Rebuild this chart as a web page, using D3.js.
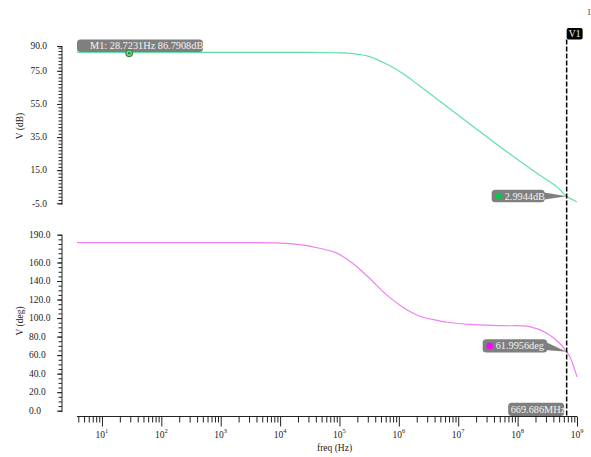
<!DOCTYPE html>
<html>
<head>
<meta charset="utf-8">
<script src="https://cdn.jsdelivr.net/npm/d3@7/dist/d3.min.js"></script>
<style>
  body { margin: 0; background: #fff; }
  svg text { font-family: "Liberation Serif", "DejaVu Serif", serif; }
</style>
</head>
<body>
<svg id="chart" width="591" height="457"></svg>
<script>
// magnitude trace (Hz, dB)
const magFreq = [3.8, 10, 100, 1e3, 1e4, 3.16e4, 1e5, 1.66e5, 3.2e5, 6.2e5, 1.15e6, 2.2e6, 4.3e6, 7.2e6, 1.55e7, 5.6e7, 2.0e8, 4.6e8, 6.7e8, 1e9];
const magDb   = [86.2, 86.2, 86.2, 86.2, 86.2, 86.1, 85.9, 85.4, 83.6, 79.1, 73.5, 66.1, 58.2, 52.1, 43.1, 28.0, 13.7, 4.9, -0.8, -4.2];

// phase trace (Hz, deg)
const phaseFreq = [3.8, 1e3, 1e4, 2e4, 4.6e4, 8.7e4, 1.66e5, 3.2e5, 6.2e5, 1.17e6, 2.2e6, 4.3e6, 7.1e6, 1.55e7, 5.7e7, 1.6e8, 3.1e8, 5.1e8, 6.7e8, 7.6e8, 1e9];
const phaseDeg  = [181.4, 181.4, 181.0, 179.5, 175.4, 170.6, 159.2, 143, 125, 111.7, 102.3, 97.6, 95.2, 93.2, 91.8, 90.7, 83.6, 72.8, 63.7, 58.3, 36.5];

const magTicks = [-5, 15, 35, 55, 75, 90];
const phaseTicks = [0, 20, 40, 60, 80, 100, 120, 140, 160, 190];
const decades = [1, 2, 3, 4, 5, 6, 7, 8, 9];

// markers
const m1 = {freq: 28.7231, db: 86.7908, label: "M1: 28.7231Hz 86.7908dB"};
const cursor = {freq: 669.686e6, name: "V1", freqLabel: "669.686MHz", dbLabel: "2.9944dB", degLabel: "61.9956deg"};

const ink = "#222";
const svg = d3.select("#chart");

const x = d3.scaleLog().domain([3.8, 1e9]).range([77, 577]);
const yMag = d3.scaleLinear().domain([-5, 90]).range([203.3, 46]);
const yPh = d3.scaleLinear().domain([0, 190]).range([410.7, 234.7]);

// piecewise lookups along the traces (for placing markers on the curves)
const magAt = d3.scaleLog().domain(magFreq).range(magDb);
const phAt = d3.scaleLog().domain(phaseFreq).range(phaseDeg);

// ---- y axes
function yAxis(scale, ticks, minorStep, lo, hi, labelX, anchor) {
    const g = svg.append("g").attr("transform", "translate(62,0)");
    const minor = d3.range(lo, hi + 0.001, minorStep);
    g.append("g").call(d3.axisLeft(scale).tickValues(minor).tickSize(3.5).tickFormat(""))
        .call(s => s.select(".domain").remove());
    g.append("g").call(d3.axisLeft(scale).tickValues(ticks).tickSize(5).tickFormat(""))
        .call(s => s.select(".domain").remove());
    g.selectAll(".tick line").attr("stroke", ink);
    g.append("line")
        .attr("y1", scale(d3.max(ticks))).attr("y2", scale(d3.min(ticks)) + 1.5)
        .attr("stroke", ink);
    svg.append("g").selectAll("text").data(ticks).join("text")
        .attr("x", labelX).attr("y", d => scale(d) + 3.3)
        .attr("text-anchor", anchor)
        .attr("font-size", 9.5).attr("fill", ink)
        .text(d => d.toFixed(1));
}
yAxis(yMag, magTicks, 2, -5, 90, 47, "end");
yAxis(yPh, phaseTicks, 5, 0, 190, 29, "start");

svg.append("text").attr("transform", "translate(23,126) rotate(-90)")
    .attr("text-anchor", "middle").attr("font-size", 9.5).attr("fill", ink).text("V (dB)");
svg.append("text").attr("transform", "translate(23,321) rotate(-90)")
    .attr("text-anchor", "middle").attr("font-size", 9.5).attr("fill", ink).text("V (deg)");

// ---- x axis
const minorF = [];
decades.forEach(e => [2, 3, 4, 5, 6, 7, 8, 9].forEach(m => minorF.push(m * Math.pow(10, e - 1))));
const minorIn = minorF.filter(f => f >= 3.8 && f <= 1e9);
const xg = svg.append("g").attr("transform", "translate(0,416.5)");
xg.append("g").call(d3.axisBottom(x).tickValues(minorIn).tickSize(6).tickFormat(""))
    .call(s => s.select(".domain").remove());
xg.append("g").call(d3.axisBottom(x).tickValues(decades.map(e => Math.pow(10, e))).tickSize(10).tickFormat(""))
    .call(s => s.select(".domain").remove());
xg.selectAll(".tick line").attr("stroke", ink);
xg.append("line").attr("x1", 77).attr("x2", 577).attr("stroke", ink);

const xl = svg.append("g").selectAll("text").data(decades).join("text")
    .attr("x", d => x(Math.pow(10, d))).attr("y", 438)
    .attr("text-anchor", "middle").attr("font-size", 9.5).attr("fill", ink);
xl.append("tspan").text("10");
xl.append("tspan").attr("dy", -5).attr("font-size", 6.5).text(d => d);

svg.append("text").attr("x", 317).attr("y", 451).attr("font-size", 9.5).attr("fill", ink).text("freq (Hz)");
svg.append("text").attr("x", 589).attr("y", 15).attr("font-size", 8).attr("fill", ink)
    .attr("text-anchor", "middle").text("1");

// ---- traces
const smooth = d3.curveCatmullRom.alpha(0.5);
svg.append("path")
    .datum(magFreq.map((f, i) => [f, magDb[i]]))
    .attr("fill", "none").attr("stroke", "#62e0a4").attr("stroke-width", 1.2)
    .attr("d", d3.line().x(d => x(d[0])).y(d => yMag(d[1])).curve(smooth));
svg.append("path")
    .datum(phaseFreq.map((f, i) => [f, phaseDeg[i]]))
    .attr("fill", "none").attr("stroke", "#f27ef2").attr("stroke-width", 1.2)
    .attr("d", d3.line().x(d => x(d[0])).y(d => yPh(d[1])).curve(smooth));

// ---- cursor V1
const cx = x(cursor.freq);
svg.append("line").attr("x1", cx).attr("x2", cx).attr("y1", 39.5).attr("y2", 416.5)
    .attr("stroke", "#000").attr("stroke-width", 1.5).attr("stroke-dasharray", "5,2");
svg.append("rect").attr("x", cx).attr("y", 28).attr("width", 16).attr("height", 11.5)
    .attr("rx", 2).attr("fill", "#000");
svg.append("text").attr("x", cx + 8).attr("y", 37).attr("text-anchor", "middle")
    .attr("font-size", 9.5).attr("fill", "#fff").text(cursor.name);

function tag(bx, by, w, h, label, textX, dot, point) {
    const g = svg.append("g");
    if (point) {
        g.append("polygon")
            .attr("points", [[bx + w - 2, by + 2.5], [bx + w - 2, by + h - 2.5], point].map(p => p.join(",")).join(" "))
            .attr("fill", "#7f7f7f");
    }
    g.append("rect").attr("x", bx).attr("y", by).attr("width", w).attr("height", h)
        .attr("rx", 3.5).attr("fill", "#7f7f7f");
    if (dot) {
        g.append("circle").attr("cx", bx + 7).attr("cy", by + h / 2).attr("r", 3.2).attr("fill", dot);
    }
    g.append("text").attr("x", textX).attr("y", by + h / 2 + 3.5)
        .attr("font-size", 10.3).attr("fill", "#f4f4f4").text(label);
}

const pMag = [cx, yMag(magAt(cursor.freq))];
const pPh = [cx, yPh(phAt(cursor.freq))];
tag(cx - 75, pMag[1] - 6.5, 53, 12.5, cursor.dbLabel, cx - 62, "#00c853", pMag);
tag(cx - 84, pPh[1] - 12.5, 64.5, 13.4, cursor.degLabel, cx - 71, "#ff00ff", pPh);
tag(cx - 58.5, 402.8, 56, 13.3, cursor.freqLabel, cx - 56, null, null);

// ---- marker M1
tag(77, 39.5, 126, 12.5, m1.label, 90, null, null);
const m1x = x(m1.freq), m1y = yMag(magAt(m1.freq)) + 1;
svg.append("circle").attr("cx", m1x).attr("cy", m1y).attr("r", 3.3)
    .attr("fill", "#7fd6a0").attr("stroke", "#2e7d3e").attr("stroke-width", 1.1);
svg.append("circle").attr("cx", m1x).attr("cy", m1y).attr("r", 1.3).attr("fill", "#2e7d3e");
</script>
</body>
</html>
